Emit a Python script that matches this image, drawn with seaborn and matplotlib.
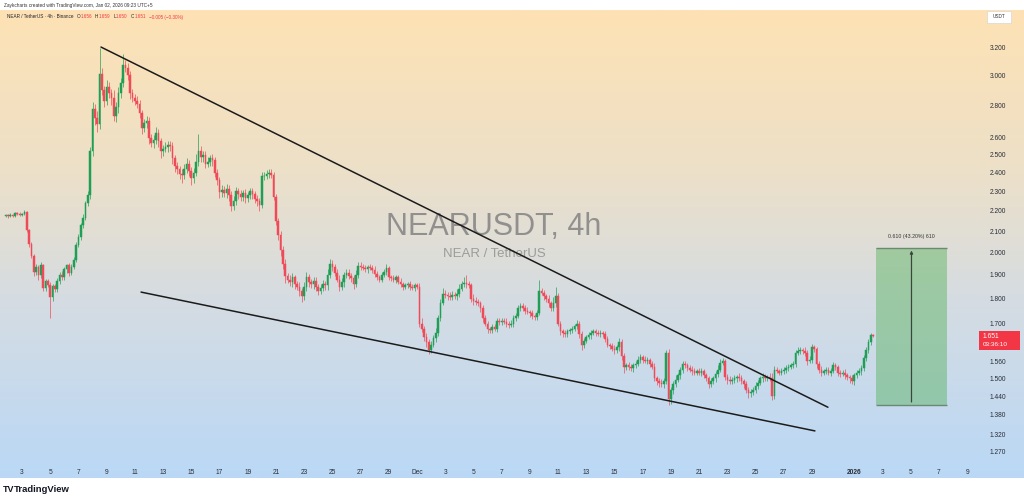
import numpy as np
import pandas as pd
import matplotlib
matplotlib.use("Agg")
import matplotlib.pyplot as plt
import seaborn as sns
from matplotlib.patches import Rectangle
from matplotlib.ticker import NullLocator

# ---------------- data (prices in milli-USDT, 4h candles) ----------------
first_open_milli = 2175
start_day = 0.8333          # days since Nov 1 00:00 (first candle: Nov 1 20:00)
candle_hours = 4

close_milli = [
    2178, 2172, 2181, 2176, 2188, 2185, 2179, 2183, 2192, 2105,
    2038, 1985, 1912, 1935, 1898, 1942, 1845, 1872, 1858, 1805,
    1852, 1838, 1875, 1902, 1890, 1925, 1942, 1908, 1935, 1968,
    2035, 2072, 2128, 2165, 2238, 2280, 2520, 2780, 2720, 2685,
    3010, 2900, 2830, 2920, 2880, 2850, 2735, 2790, 2880, 2945,
    3070, 3050, 3000, 2880, 2850, 2830, 2810, 2750, 2660, 2690,
    2705, 2600, 2570, 2590, 2630, 2580, 2520, 2535, 2545, 2560,
    2550, 2480, 2440, 2420, 2395, 2390, 2420, 2450, 2410, 2370,
    2400, 2460, 2520, 2490, 2500, 2450, 2460, 2480, 2470, 2400,
    2360, 2295, 2310, 2290, 2315, 2280, 2225, 2250, 2300, 2285,
    2270, 2290, 2265, 2280, 2300, 2285, 2260, 2250, 2230, 2380,
    2385, 2395, 2400, 2390, 2270, 2150, 2080, 2010, 1950, 1895,
    1880, 1870, 1890, 1860, 1850, 1830, 1810, 1850, 1890, 1870,
    1860, 1875, 1850, 1830, 1845, 1860, 1855, 1900, 1950, 1935,
    1910, 1880, 1850, 1870, 1900, 1910, 1895, 1885, 1860, 1900,
    1940, 1935, 1930, 1925, 1935, 1930, 1920, 1905, 1890, 1880,
    1900, 1915, 1930, 1890, 1885, 1880, 1890, 1870, 1860, 1850,
    1855, 1860, 1850, 1845, 1855, 1850, 1700, 1680, 1650, 1630,
    1600, 1620, 1645, 1665, 1720, 1780, 1820, 1815, 1810, 1805,
    1815, 1810, 1820, 1840, 1860, 1865, 1860, 1855, 1800, 1790,
    1785, 1780, 1760, 1720, 1700, 1680, 1675, 1685, 1680, 1710,
    1705, 1712, 1708, 1700, 1695, 1700, 1720, 1730, 1760, 1770,
    1760, 1750, 1745, 1740, 1730, 1725, 1740, 1830, 1825, 1810,
    1800, 1780, 1760, 1780, 1810, 1700, 1670, 1665, 1660, 1670,
    1675, 1680, 1690, 1700, 1660, 1620, 1635, 1650, 1655, 1665,
    1670, 1665, 1660, 1665, 1660, 1640, 1620, 1615, 1605, 1600,
    1610, 1630, 1580, 1540, 1545, 1540, 1535, 1545, 1550, 1565,
    1575, 1565, 1560, 1565, 1550, 1540, 1500, 1490, 1485, 1480,
    1490, 1590, 1430, 1460, 1480, 1495, 1510, 1530, 1550, 1545,
    1535, 1530, 1525, 1520, 1525, 1520, 1525, 1510, 1500, 1480,
    1490, 1500, 1515, 1530, 1555, 1560, 1505, 1495, 1490, 1495,
    1500, 1505, 1500, 1490, 1480, 1460, 1450, 1455, 1460, 1475,
    1485, 1500, 1505, 1500, 1505, 1500, 1440, 1530, 1525, 1520,
    1525, 1530, 1535, 1540, 1545, 1550, 1590, 1595, 1600, 1598,
    1590, 1560, 1565, 1610, 1605, 1550, 1530, 1520, 1525, 1530,
    1520, 1525, 1545, 1540, 1520, 1515, 1520, 1510, 1505, 1500,
    1490, 1510, 1520, 1525, 1535, 1570, 1600, 1630, 1656, 1651,
]

wick_up_milli = [
    6, 4, 8, 5, 7, 4, 9, 5, 10, 6,
    8, 12, 10, 14, 9, 15, 8, 11, 9, 12,
    10, 8, 12, 9, 14, 10, 8, 12, 15, 10,
    12, 15, 10, 18, 14, 20, 25, 40, 30, 45,
    180, 40, 30, 45, 35, 28, 50, 30, 40, 35,
    80, 40, 35, 30, 28, 25, 30, 22, 20, 25,
    30, 25, 20, 28, 35, 22, 20, 25, 30, 22,
    20, 25, 18, 22, 20, 25, 28, 30, 22, 20,
    25, 45, 100, 30, 25, 20, 28, 22, 25, 20,
    22, 18, 25, 20, 22, 18, 20, 25, 22, 18,
    20, 18, 22, 15, 20, 18, 15, 20, 18, 25,
    20, 18, 22, 20, 15, 18, 15, 20, 18, 22,
    15, 20, 18, 12, 15, 18, 15, 20, 25, 15,
    12, 18, 15, 12, 15, 20, 15, 25, 20, 18,
    15, 18, 20, 15, 12, 18, 15, 12, 15, 20,
    15, 18, 12, 15, 10, 12, 15, 18, 12, 10,
    15, 12, 18, 10, 12, 15, 10, 12, 15, 10,
    12, 10, 15, 12, 10, 12, 15, 20, 10, 12,
    10, 15, 12, 18, 15, 20, 25, 15, 12, 18,
    15, 12, 18, 20, 15, 25, 35, 15, 12, 18,
    15, 12, 10, 15, 12, 10, 8, 12, 15, 10,
    12, 10, 8, 12, 10, 15, 12, 10, 15, 12,
    10, 12, 15, 10, 12, 8, 15, 50, 15, 12,
    10, 15, 12, 25, 40, 12, 10, 8, 12, 10,
    8, 12, 10, 15, 10, 12, 10, 8, 12, 10,
    10, 8, 12, 10, 8, 10, 12, 8, 10, 12,
    10, 15, 12, 10, 8, 12, 10, 8, 12, 15,
    10, 8, 12, 10, 8, 10, 12, 8, 10, 12,
    10, 12, 15, 10, 12, 15, 10, 8, 12, 10,
    8, 10, 12, 10, 8, 10, 12, 8, 10, 8,
    10, 8, 12, 15, 12, 10, 8, 10, 12, 8,
    10, 8, 12, 10, 8, 10, 12, 8, 10, 12,
    10, 8, 12, 10, 8, 15, 20, 12, 10, 8,
    10, 8, 12, 10, 8, 10, 12, 15, 10, 8,
    12, 10, 15, 12, 10, 8, 10, 12, 8, 10,
    8, 10, 12, 10, 8, 10, 8, 12, 10, 8,
    10, 8, 10, 12, 10, 12, 10, 12, 8, 3,
]

wick_dn_milli = [
    5, 8, 4, 7, 5, 8, 6, 4, 5, 10,
    12, 10, 15, 12, 18, 10, 14, 12, 10, 85,
    15, 12, 10, 14, 12, 10, 15, 12, 10, 8,
    12, 10, 15, 12, 10, 15, 20, 25, 45, 50,
    30, 35, 40, 30, 35, 45, 30, 40, 35, 30,
    25, 30, 35, 40, 30, 25, 28, 30, 35, 25,
    30, 35, 25, 30, 28, 35, 40, 25, 20, 30,
    25, 30, 35, 25, 30, 45, 25, 20, 30, 35,
    25, 20, 25, 30, 28, 25, 20, 25, 30, 22,
    25, 30, 22, 20, 25, 30, 25, 20, 22, 25,
    20, 22, 25, 20, 18, 22, 20, 25, 30, 15,
    20, 18, 22, 20, 15, 18, 20, 25, 22, 30,
    15, 18, 20, 22, 15, 20, 25, 15, 18, 20,
    15, 20, 18, 15, 12, 15, 18, 20, 15, 18,
    15, 12, 18, 15, 20, 15, 12, 15, 18, 12,
    15, 12, 10, 12, 15, 10, 12, 15, 10, 12,
    12, 10, 15, 12, 10, 12, 15, 10, 12, 15,
    10, 12, 15, 10, 12, 10, 15, 12, 15, 20,
    15, 12, 10, 15, 12, 10, 8, 12, 15, 10,
    12, 10, 15, 12, 10, 12, 15, 10, 12, 15,
    10, 12, 15, 12, 10, 15, 12, 10, 8, 12,
    10, 12, 8, 15, 12, 10, 12, 8, 10, 12,
    10, 12, 8, 15, 12, 10, 12, 8, 10, 15,
    12, 15, 10, 12, 15, 10, 12, 15, 10, 12,
    10, 12, 8, 10, 15, 20, 12, 10, 8, 12,
    10, 12, 8, 10, 12, 10, 8, 12, 10, 15,
    10, 12, 15, 20, 12, 10, 8, 12, 10, 8,
    10, 12, 8, 10, 12, 8, 10, 12, 15, 10,
    12, 10, 20, 15, 12, 10, 8, 12, 10, 8,
    10, 8, 12, 10, 8, 10, 12, 8, 10, 12,
    8, 10, 12, 10, 8, 10, 12, 15, 10, 8,
    10, 12, 8, 10, 12, 10, 15, 12, 10, 8,
    10, 8, 12, 10, 8, 10, 12, 10, 8, 10,
    8, 10, 12, 10, 8, 10, 12, 8, 10, 12,
    10, 12, 8, 10, 12, 15, 10, 12, 8, 10,
    10, 12, 8, 10, 12, 10, 8, 12, 10, 15,
    10, 12, 8, 10, 12, 10, 8, 10, 12, 1,
]

tick_days = [2, 4, 6, 8, 10, 12, 14, 16, 18, 20, 22, 24, 26, 28, 30,
             32, 34, 36, 38, 40, 42, 44, 46, 48, 50, 52, 54, 56, 58,
             61, 63, 65, 67, 69]
tick_labels = ["3", "5", "7", "9", "11", "13", "15", "17", "19", "21", "23",
               "25", "27", "29", "Dec", "3", "5", "7", "9", "11", "13", "15",
               "17", "19", "21", "23", "25", "27", "29", "2026", "3", "5",
               "7", "9"]
price_ticks = [3.2, 3.0, 2.8, 2.6, 2.5, 2.4, 2.3, 2.2, 2.1, 2.0, 1.9, 1.8,
               1.7, 1.56, 1.5, 1.44, 1.38, 1.32, 1.27]

upper_line_days = [7.6, 59.13]
upper_line_prices = [3.20, 1.404]
lower_line_days = [10.44, 58.21]
lower_line_prices = [1.827, 1.330]

box_days = [62.54, 67.57]
box_prices = [1.412, 2.022]
box_label = "0.610 (43.20%) 610"
last_price = "1.651"
countdown = "03:36:10"
legend_parts = [("NEAR / TetherUS · 4h · Binance", "d"), ("O", "d"), ("1.656", "r"),
                ("H", "d"), ("1.659", "r"), ("L", "d"), ("1.650", "r"),
                ("C", "d"), ("1.651", "r"), ("−0.005 (−0.30%)", "r")]

# ---------------- frame ----------------
n = min(len(close_milli), len(wick_up_milli), len(wick_dn_milli))
close = np.array(close_milli[:n]) / 1000.0
opn = np.concatenate([[first_open_milli / 1000.0], close[:-1]])
hi = np.maximum(opn, close) + np.array(wick_up_milli[:n]) / 1000.0
lo = np.minimum(opn, close) - np.array(wick_dn_milli[:n]) / 1000.0
t = start_day + np.arange(n) * candle_hours / 24.0
df = pd.DataFrame({"t": t, "open": opn, "high": hi, "low": lo, "close": close})
df["up"] = df["close"] >= df["open"]

# ---------------- figure ----------------
sns.set_theme(style="white")
plt.rcParams["font.family"] = ["Liberation Sans", "DejaVu Sans"]
W, H = 1024, 503
fig = plt.figure(figsize=(W / 100, H / 100), dpi=100, facecolor="white")

def fx(x):
    return x / W

def fy(y):
    return 1 - y / H

# background gradient
bg = fig.add_axes([0, fy(478), 1, fy(10) - fy(478)], zorder=0)
stops = np.array([0.0, 0.35, 0.62, 1.0])
cols = np.array([[254, 226, 180], [236, 224, 201], [213, 220, 226], [186, 216, 246]]) / 255.0
g = np.linspace(0, 1, 400)
grad = np.stack([np.interp(g, stops, cols[:, k]) for k in range(3)], axis=-1)[:, None, :]
bg.imshow(grad, aspect="auto", extent=[0, 1, 0, 1], origin="upper")
bg.set_axis_off()

ax = fig.add_axes([0, fy(462), fx(978), fy(10) - fy(462)], zorder=1)
ax.patch.set_alpha(0)
for s in ax.spines.values():
    s.set_visible(False)

up_c, dn_c = "#1f9f56", "#ef4a58"
colors = np.where(df["up"], up_c, dn_c)
ax.vlines(df["t"], df["low"], df["high"], colors=colors, lw=0.7, alpha=0.7, zorder=2)
body_lo = np.minimum(df["open"], df["close"])
body_h = np.maximum(np.abs(df["close"] - df["open"]), 0.002)
ax.bar(df["t"], body_h, bottom=body_lo, width=0.7 / 6, color=colors,
       edgecolor=colors, lw=0.35, zorder=3)

sns.lineplot(x=upper_line_days, y=upper_line_prices, ax=ax, color="#1b1b1b", lw=1.1, zorder=4)
sns.lineplot(x=lower_line_days, y=lower_line_prices, ax=ax, color="#1b1b1b", lw=1.1, zorder=4)

# target box
ax.add_patch(Rectangle((box_days[0], box_prices[0]), box_days[1] - box_days[0],
                       box_prices[1] - box_prices[0], facecolor="#4caf50",
                       alpha=0.42, lw=0, zorder=2))
ax.hlines(box_prices, box_days[0], box_days[1], colors="#6a8a70", lw=1.0, zorder=3)
mid = (box_days[0] + box_days[1]) / 2
ax.annotate("", xy=(mid, box_prices[1]), xytext=(mid, box_prices[0]),
            arrowprops=dict(arrowstyle="-|>", color="#3a463c", lw=0.9, mutation_scale=4),
            zorder=4)
ax.text(mid, 2.065, box_label, ha="center", va="bottom", fontsize=3.8, color="#333333")

ax.set_yscale("log")
ax.set_xlim(0.4405, 69.77)
ax.set_ylim(1.2387, 3.483)
ax.yaxis.tick_right()
ax.set_yticks(price_ticks)
ax.set_yticklabels([f"{p:.3f}" for p in price_ticks])
ax.yaxis.set_minor_locator(NullLocator())
ax.set_xticks(tick_days)
ax.set_xticklabels(tick_labels)
ax.tick_params(axis="y", length=0, pad=8.5, labelsize=4.8, labelcolor="#2a2e39")
ax.tick_params(axis="x", length=0, pad=5.0, labelsize=4.8, labelcolor="#2a2e39")
for lbl in ax.get_xticklabels():
    if lbl.get_text() == "2026":
        lbl.set_fontweight("bold")
ax.grid(False)
ax.set_xlabel("")
ax.set_ylabel("")

# watermark
fig.text(fx(494), fy(227), "NEARUSDT, 4h", ha="center", va="center",
         fontsize=22, color="#7d7d7d", alpha=0.8, zorder=0.5)
fig.text(fx(494), fy(254), "NEAR / TetherUS", ha="center", va="center",
         fontsize=9.5, color="#8c8c8c", alpha=0.8, zorder=0.5)

# header
fig.text(fx(4), fy(5), "Zaykcharts created with TradingView.com, Jan 02, 2026 09:23 UTC+5",
         ha="left", va="center", fontsize=3.4, color="#333333")
renderer = fig.canvas.get_renderer()
cmap_txt = {"d": "#1e2230", "r": "#f23645"}
xcur = 7.0
for i, (s, c) in enumerate(legend_parts):
    txt = fig.text(fx(xcur), fy(17), s, ha="left", va="center", fontsize=3.3,
                   color=cmap_txt[c], zorder=5)
    w = txt.get_window_extent(renderer).width
    nxt = legend_parts[i + 1][0] if i + 1 < len(legend_parts) else ""
    gap = 0.3 if (c == "d" and s in "OHLC") else 3.0
    xcur += w + gap

# USDT box
fig.patches.append(Rectangle((fx(987), fy(23)), fx(24), fy(11) - fy(23), transform=fig.transFigure,
                             facecolor="white", edgecolor="#d0d0d0", lw=0.4, zorder=5))
fig.text(fx(999), fy(17), "USDT", ha="center", va="center", fontsize=3.4, color="#333333", zorder=6)

# last price box
fig.patches.append(Rectangle((fx(979), fy(350)), fx(41), fy(331) - fy(350), transform=fig.transFigure,
                             facecolor="#f23645", edgecolor="none", zorder=5))
fig.text(fx(983), fy(336), last_price, ha="left", va="center", fontsize=4.8, color="white", zorder=6)
fig.text(fx(983), fy(345), countdown, ha="left", va="center", fontsize=4.6, color="white", zorder=6)

# TradingView logo
fig.text(fx(3), fy(490), "TV", ha="left", va="center", fontsize=6.5, fontweight="bold",
         color="#131722")
fig.text(fx(14), fy(490), "TradingView", ha="left", va="center", fontsize=6.8,
         fontweight="bold", color="#131722")

fig.savefig("out.png", dpi=100, facecolor="white")
